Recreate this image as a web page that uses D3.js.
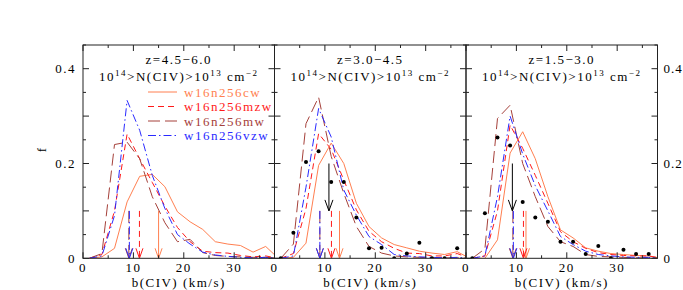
<!DOCTYPE html>
<html>
<head>
<meta charset="utf-8">
<script src="https://cdn.jsdelivr.net/npm/d3@7"></script>
<style>
  body { margin: 0; background: #fff; }
  svg { font-family: "Liberation Serif", "DejaVu Serif", serif; letter-spacing: 1.5px; }
</style>
</head>
<body>
<div id="chart"></div>
<script>
// bin centres (km/s)
var bins = [1.25, 3.75, 6.25, 8.75, 11.25, 13.75, 16.25, 18.75, 21.25, 23.75, 26.25, 28.75, 31.25, 33.75, 36.25, 38.75];
var obsBins = bins.slice(0, 15);

var zLabels = ["z=4.5\u22126.0", "z=3.0\u22124.5", "z=1.5\u22123.0"];
var seriesNames = ["w16n256cw", "w16n256mzw", "w16n256mw", "w16n256vzw"];

// f per bin, one row per redshift panel
var cwVals = [
  [0, 0.003, 0.021, 0.119, 0.173, 0.177, 0.151, 0.098, 0.077, 0.061, 0.035, 0.030, 0.027, 0.013, 0.025, 0],
  [0, 0.002, 0.032, 0.196, 0.243, 0.200, 0.116, 0.067, 0.043, 0.029, 0.022, 0.015, 0.011, 0.008, 0.014, 0],
  [0, 0, 0.039, 0.222, 0.267, 0.210, 0.130, 0.060, 0.043, 0.022, 0.015, 0.010, 0.008, 0.006, 0.005, 0]
];
var mzwVals = [
  [0, 0.008, 0.100, 0.262, 0.210, 0.160, 0.110, 0.065, 0.035, 0.015, 0.012, 0.011, 0.006, 0.003, 0.005, 0],
  [0, 0.010, 0.105, 0.263, 0.230, 0.165, 0.102, 0.057, 0.035, 0.021, 0.011, 0.010, 0.005, 0.005, 0.010, 0],
  [0, 0.005, 0.100, 0.281, 0.232, 0.175, 0.116, 0.056, 0.035, 0.021, 0.012, 0.008, 0.006, 0.005, 0.005, 0]
];
var mwVals = [
  [0, 0.010, 0.240, 0.245, 0.210, 0.130, 0.075, 0.035, 0.040, 0.012, 0.006, 0.004, 0.003, 0.002, 0.002, 0],
  [0, 0.030, 0.284, 0.340, 0.215, 0.137, 0.067, 0.025, 0.011, 0.005, 0.003, 0.002, 0.001, 0.001, 0.001, 0],
  [0, 0.020, 0.295, 0.323, 0.200, 0.130, 0.067, 0.035, 0.025, 0.008, 0.004, 0.003, 0.002, 0.001, 0.001, 0]
];
var vzwVals = [
  [0, 0.005, 0.090, 0.333, 0.270, 0.175, 0.105, 0.050, 0.030, 0.013, 0.007, 0.004, 0.002, 0.001, 0.002, 0],
  [0, 0.005, 0.150, 0.316, 0.256, 0.144, 0.091, 0.046, 0.029, 0.008, 0.005, 0.003, 0.002, 0.001, 0.002, 0],
  [0, 0.005, 0.130, 0.300, 0.220, 0.153, 0.100, 0.046, 0.029, 0.015, 0.008, 0.005, 0.003, 0.002, 0.002, 0]
];
// observed points (none in the first panel)
var obsVals = [
  null,
  [0, 0.054, 0.203, 0.226, 0.161, 0.161, 0.086, 0.021, 0.022, 0, 0.010, 0.033, 0, 0, 0.021],
  [0, 0.095, 0.255, 0.238, 0.119, 0.086, 0.077, 0.035, 0.035, 0.009, 0.026, 0, 0.018, 0.009, 0.009]
];
// median arrows (km/s)
var cwMed  = [15.0, 12.9, 11.9];
var mzwMed = [11.2, 11.3, 11.4];
var mwMed  = [9.1, 9.0, 9.3];
var vzwMed = [9.2, 9.0, 9.4];
var obsMed = [null, 10.8, 9.2];

var xTicks = [0, 10, 20, 30];
var yTickLabels = [0, 0.2, 0.4];

var W = 683, H = 290;
var mLeft = 83, mTop = 45, mBottom = 258.3, panelW = 191.5;

var svg = d3.select("#chart").append("svg")
    .attr("width", W)
    .attr("height", H);

var y = d3.scaleLinear().domain([0, 0.45]).range([mBottom, mTop]);

var styles = [
  {vals: cwVals,  med: cwMed,  color: "#ff7f50", dash: null},
  {vals: mzwVals, med: mzwMed, color: "#ff1a1a", dash: "6,4"},
  {vals: mwVals,  med: mwMed,  color: "#a5403a", dash: "12,5"},
  {vals: vzwVals, med: vzwMed, color: "#2a2aff", dash: "8,3,1.5,3"}
];

svg.append("defs").selectAll("clipPath")
  .data([0, 1, 2])
  .enter().append("clipPath")
    .attr("id", function(d) { return "clip" + d; })
  .append("rect")
    .attr("x", function(d) { return mLeft + d * panelW; })
    .attr("y", mTop)
    .attr("width", panelW)
    .attr("height", mBottom - mTop);

function arrow(g, xp, y0, y1, color, dash, hw, hh) {
  g.append("line")
    .attr("x1", xp).attr("x2", xp)
    .attr("y1", y0).attr("y2", y1)
    .attr("stroke", color)
    .attr("stroke-dasharray", dash)
    .attr("stroke-width", 1);
  g.append("path")
    .attr("d", "M" + (xp - hw) + "," + (y1 - hh) + "L" + xp + "," + y1 + "L" + (xp + hw) + "," + (y1 - hh))
    .attr("fill", "none")
    .attr("stroke", color)
    .attr("stroke-width", 1);
}

[0, 1, 2].forEach(function(p) {
  var x0 = mLeft + p * panelW;
  var x = d3.scaleLinear().domain([0, 38]).range([x0, x0 + panelW]);
  var g = svg.append("g");
  var plot = g.append("g").attr("clip-path", "url(#clip" + p + ")");

  var line = d3.line()
      .x(function(d, i) { return x(bins[i]); })
      .y(function(d) { return y(d); });

  styles.forEach(function(s) {
    plot.append("path")
      .datum(s.vals[p])
      .attr("d", line)
      .attr("fill", "none")
      .attr("stroke", s.color)
      .attr("stroke-width", 1)
      .attr("stroke-dasharray", s.dash);
  });

  // median arrows for the models, mw drawn first so vzw sits on top
  [styles[2], styles[0], styles[1], styles[3]].forEach(function(s) {
    arrow(plot, x(s.med[p]), y(0.1), y(0), s.color, s.dash, 3.5, 10);
  });

  if (obsVals[p]) {
    plot.selectAll("circle")
      .data(obsVals[p])
      .enter().append("circle")
        .attr("cx", function(d, i) { return x(obsBins[i]); })
        .attr("cy", function(d) { return y(d); })
        .attr("r", 2)
        .attr("fill", "#000");
    arrow(plot, x(obsMed[p]), y(0.2), y(0.1), "#000", null, 4, 11);
  }

  // frame
  g.append("rect")
    .attr("x", x0).attr("y", mTop)
    .attr("width", panelW).attr("height", mBottom - mTop)
    .attr("fill", "none")
    .attr("stroke", "#222")
    .attr("stroke-width", 1);

  // x ticks (bottom and top, pointing inward)
  d3.range(0, 38.01, 5).forEach(function(t) {
    var len = (t % 10 === 0) ? 6 : 3;
    g.append("line").attr("x1", x(t)).attr("x2", x(t))
      .attr("y1", mBottom).attr("y2", mBottom - len).attr("stroke", "#222");
    g.append("line").attr("x1", x(t)).attr("x2", x(t))
      .attr("y1", mTop).attr("y2", mTop + len).attr("stroke", "#222");
  });
  // y ticks (both sides, pointing inward)
  d3.range(0, 0.451, 0.05).forEach(function(t) {
    var len = (Math.round(t * 100) % 10 === 0) ? 6 : 3;
    g.append("line").attr("x1", x0).attr("x2", x0 + len)
      .attr("y1", y(t)).attr("y2", y(t)).attr("stroke", "#222");
    g.append("line").attr("x1", x0 + panelW).attr("x2", x0 + panelW - len)
      .attr("y1", y(t)).attr("y2", y(t)).attr("stroke", "#222");
  });

  g.selectAll("text.xtick")
    .data(xTicks)
    .enter().append("text")
      .attr("class", "xtick")
      .attr("x", function(d) { return x(d); })
      .attr("y", mBottom + 13.5)
      .attr("text-anchor", "middle")
      .attr("font-size", 13)
      .text(function(d) { return d; });

  g.append("text")
    .attr("x", x0 + panelW / 2)
    .attr("y", mBottom + 29)
    .attr("text-anchor", "middle")
    .attr("font-size", 13)
    .text("b(CIV) (km/s)");

  g.append("text")
    .attr("x", x0 + panelW / 2)
    .attr("y", 64)
    .attr("text-anchor", "middle")
    .attr("font-size", 13)
    .text(zLabels[p]);

  var t2 = g.append("text")
    .attr("x", x0 + panelW / 2)
    .attr("y", 81)
    .attr("text-anchor", "middle")
    .attr("font-size", 13);
  t2.append("tspan").text("10");
  t2.append("tspan").attr("font-size", 9).attr("dy", -5).text("14");
  t2.append("tspan").attr("dy", 5).text(">N(CIV)>10");
  t2.append("tspan").attr("font-size", 9).attr("dy", -5).text("13");
  t2.append("tspan").attr("dy", 5).text(" cm");
  t2.append("tspan").attr("font-size", 9).attr("dy", -5).text("\u22122");
});

// y tick labels, left of first panel and right of last panel
svg.selectAll("text.yl")
  .data(yTickLabels)
  .enter().append("text")
    .attr("class", "yl")
    .attr("x", mLeft - 7)
    .attr("y", function(d) { return y(d) + 4.5; })
    .attr("text-anchor", "end")
    .attr("font-size", 13)
    .text(function(d) { return d; });

svg.selectAll("text.yr")
  .data(yTickLabels)
  .enter().append("text")
    .attr("class", "yr")
    .attr("x", mLeft + 3 * panelW + 6)
    .attr("y", function(d) { return y(d) + 4.5; })
    .attr("text-anchor", "start")
    .attr("font-size", 13)
    .style("letter-spacing", "1px")
    .text(function(d) { return d; });

svg.append("text")
  .attr("transform", "translate(46," + y(0.23) + ") rotate(-90)")
  .attr("text-anchor", "middle")
  .attr("font-size", 13)
  .text("f");

// legend in the first panel
var legend = svg.append("g").selectAll("g")
  .data(styles)
  .enter().append("g")
    .attr("transform", function(d, i) { return "translate(0," + (92 + i * 14.5) + ")"; });

legend.append("line")
  .attr("x1", 148).attr("x2", 177)
  .attr("stroke", function(d) { return d.color; })
  .attr("stroke-dasharray", function(d) { return d.dash; })
  .attr("stroke-width", 1);

legend.append("text")
  .attr("x", 184)
  .attr("y", 4.5)
  .attr("font-size", 13)
  .attr("fill", function(d) { return d.color; })
  .text(function(d, i) { return seriesNames[i]; });
</script>
</body>
</html>
